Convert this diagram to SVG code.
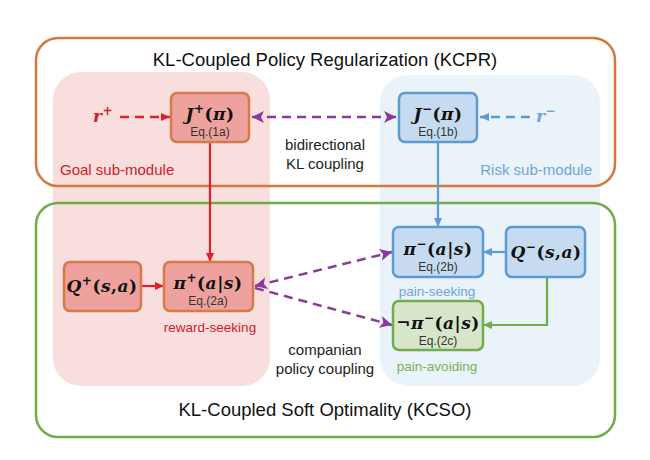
<svg xmlns="http://www.w3.org/2000/svg" width="650" height="460" viewBox="0 0 650 460">
<defs>
<style>
.title{font-family:"Liberation Sans",Arial,sans-serif;font-size:18.5px;fill:#111;text-anchor:middle}
.lbl{font-family:"Liberation Sans",Arial,sans-serif;font-size:15px;text-anchor:middle}
.small{font-size:13.5px}
.math{font-family:"DejaVu Serif","Liberation Serif",serif;font-weight:bold;font-style:italic;font-size:17px;letter-spacing:0.5px;text-anchor:middle;fill:#111}
.up{font-style:normal}
.sup{font-size:12px}
.eq{font-family:"Liberation Sans",Arial,sans-serif;font-size:12px;fill:#333;text-anchor:middle}
.rnode{fill:#EDA29D;stroke:#D8794A;stroke-width:2.5}
.bnode{fill:#C6DBEF;stroke:#5B9BD5;stroke-width:2.5}
.gnode{fill:#D7E6CA;stroke:#70AD47;stroke-width:2.5}
.dash{stroke-dasharray:9,6;stroke-width:2.5;fill:none}
.solid{stroke-width:2.2;fill:none}
</style>
<marker id="ar" markerUnits="userSpaceOnUse" markerWidth="10" markerHeight="10" refX="9" refY="5" orient="auto"><path d="M0,1 L9,5 L0,9 Z" fill="#E0202A"/></marker>
<marker id="ab" markerUnits="userSpaceOnUse" markerWidth="10" markerHeight="10" refX="9" refY="5" orient="auto"><path d="M0,1 L9,5 L0,9 Z" fill="#5B9BD5"/></marker>
<marker id="ag" markerUnits="userSpaceOnUse" markerWidth="10" markerHeight="10" refX="9" refY="5" orient="auto"><path d="M0,1 L9,5 L0,9 Z" fill="#70AD47"/></marker>
<marker id="ap" markerUnits="userSpaceOnUse" markerWidth="14" markerHeight="12" refX="12" refY="6" orient="auto-start-reverse"><path d="M0,0 L12,6 L0,12 L3,6 Z" fill="#8A3A9C"/></marker>
</defs>
<rect width="650" height="460" fill="#fff"/>

<g id="regions">
<rect x="53" y="72" width="217" height="314" rx="28" fill="#F9DEDE"/>
<rect x="380" y="75" width="220" height="311" rx="28" fill="#EAF2FA"/>
</g>

<g id="kcpr">
<rect x="36" y="38" width="579" height="148" rx="22" fill="none" stroke="#D4783C" stroke-width="2.5"/>
<text class="title" x="325" y="66">KL-Coupled Policy Regularization (KCPR)</text>
</g>
<g id="kcso">
<rect x="36" y="203" width="579" height="234" rx="22" fill="none" stroke="#70AD47" stroke-width="2.5"/>
<text class="title" x="325" y="416">KL-Coupled Soft Optimality (KCSO)</text>
</g>

<g id="labels">
<text class="lbl" x="60" y="175" fill="#D0202A" style="text-anchor:start">Goal sub-module</text>
<text class="lbl" x="592" y="175" fill="#6FA6D8" style="text-anchor:end">Risk sub-module</text>
<text class="lbl" x="325" y="150" fill="#222">bidirectional</text>
<text class="lbl" x="325" y="169" fill="#222">KL coupling</text>
<text class="lbl" x="325" y="355" fill="#222">companian</text>
<text class="lbl" x="325" y="374" fill="#222">policy coupling</text>
<text class="lbl small" x="210" y="332" fill="#D0202A">reward-seeking</text>
<text class="lbl small" x="437" y="296" fill="#6FA6D8">pain-seeking</text>
<text class="lbl small" x="437" y="371" fill="#7DB04F">pain-avoiding</text>
<text class="math" x="103" y="122" style="fill:#D0202A">r<tspan class="sup" dy="-7">+</tspan></text>
<text class="math" x="546" y="122" style="fill:#6FA6D8">r<tspan class="sup" dy="-7">−</tspan></text>
</g>

<g id="connectors">
<line class="dash" x1="120" y1="117" x2="170" y2="117" stroke="#E0202A" marker-end="url(#ar)"/>
<line class="dash" x1="530" y1="117" x2="480" y2="117" stroke="#5B9BD5" marker-end="url(#ab)"/>
<line class="dash" x1="252" y1="117" x2="396" y2="117" stroke="#8A3A9C" marker-start="url(#ap)" marker-end="url(#ap)"/>
<line class="solid" x1="210" y1="142" x2="210" y2="262" stroke="#E0202A" marker-end="url(#ar)"/>
<line class="solid" x1="438" y1="142" x2="438" y2="227" stroke="#5B9BD5" marker-end="url(#ab)"/>
<line class="solid" x1="141" y1="286" x2="164" y2="286" stroke="#E0202A" marker-end="url(#ar)"/>
<line class="solid" x1="506" y1="252" x2="483" y2="252" stroke="#5B9BD5" marker-end="url(#ab)"/>
<path class="solid" d="M547,276 V325 H483" stroke="#70AD47" marker-end="url(#ag)"/>
<line class="dash" x1="255" y1="286" x2="392" y2="252" stroke="#8A3A9C" marker-start="url(#ap)" marker-end="url(#ap)"/>
<line class="dash" x1="255" y1="288" x2="392" y2="325" stroke="#8A3A9C" marker-end="url(#ap)"/>
</g>

<g id="Jplus">
<rect class="rnode" x="171" y="93" width="78" height="49" rx="6"/>
<text class="math" x="210" y="120">J<tspan class="sup" dy="-7">+</tspan><tspan class="up" dy="7">(</tspan>π<tspan class="up">)</tspan></text>
<text class="eq" x="210" y="136">Eq.(1a)</text>
</g>
<g id="Jminus">
<rect class="bnode" x="399" y="93" width="78" height="49" rx="6"/>
<text class="math" x="438" y="120">J<tspan class="sup" dy="-7">−</tspan><tspan class="up" dy="7">(</tspan>π<tspan class="up">)</tspan></text>
<text class="eq" x="438" y="136">Eq.(1b)</text>
</g>
<g id="Qplus">
<rect class="rnode" x="64" y="262" width="77" height="49" rx="6"/>
<text class="math" x="102" y="292">Q<tspan class="sup" dy="-7">+</tspan><tspan class="up" dy="7">(</tspan>s<tspan class="up">,</tspan>a<tspan class="up">)</tspan></text>
</g>
<g id="piplus">
<rect class="rnode" x="164" y="262" width="89" height="49" rx="6"/>
<text class="math" x="208" y="289">π<tspan class="sup" dy="-7">+</tspan><tspan class="up" dy="7">(</tspan>a<tspan class="up">|</tspan>s<tspan class="up">)</tspan></text>
<text class="eq" x="208" y="305">Eq.(2a)</text>
</g>
<g id="piminus">
<rect class="bnode" x="393" y="227" width="90" height="50" rx="6"/>
<text class="math" x="438" y="255">π<tspan class="sup" dy="-7">−</tspan><tspan class="up" dy="7">(</tspan>a<tspan class="up">|</tspan>s<tspan class="up">)</tspan></text>
<text class="eq" x="438" y="271">Eq.(2b)</text>
</g>
<g id="Qminus">
<rect class="bnode" x="506" y="227" width="79" height="50" rx="6"/>
<text class="math" x="546" y="258">Q<tspan class="sup" dy="-7">−</tspan><tspan class="up" dy="7">(</tspan>s<tspan class="up">,</tspan>a<tspan class="up">)</tspan></text>
</g>
<g id="notpiminus">
<rect class="gnode" x="393" y="301" width="90" height="49" rx="6"/>
<text class="math" x="438" y="329"><tspan class="up">¬</tspan>π<tspan class="sup" dy="-7">−</tspan><tspan class="up" dy="7">(</tspan>a<tspan class="up">|</tspan>s<tspan class="up">)</tspan></text>
<text class="eq" x="438" y="345">Eq.(2c)</text>
</g>
</svg>
